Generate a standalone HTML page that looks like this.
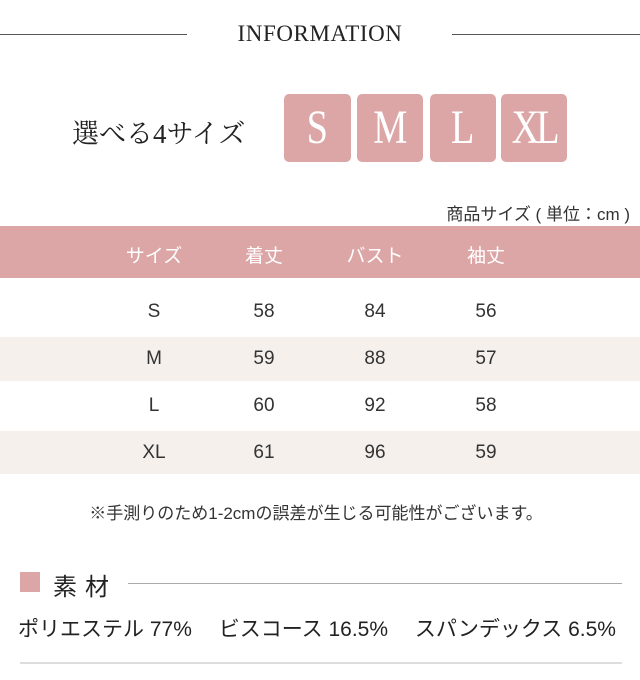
<!DOCTYPE html>
<html><head><meta charset="utf-8"><style>
*{margin:0;padding:0;box-sizing:border-box}
body{width:640px;height:680px;background:#fff;position:relative;overflow:hidden;font-family:"Liberation Sans","Noto Sans CJK JP",sans-serif;color:#333}
.a{position:absolute}
.hl{position:absolute;height:1px;background:#555}
.box{position:absolute;top:94px;height:68px;background:#dca6a7;border-radius:5px;color:#fff;font-family:"Liberation Serif","Noto Serif CJK SC",serif;font-size:48px;text-align:center;line-height:68px}
.box span{display:inline-block;transform:scaleX(0.8)}
.c{position:absolute;width:100px;margin-left:-50px;text-align:center}
.row{position:absolute;left:0;width:640px;height:44px;background:#f5f0ec}
.num{font-size:19px;color:#333;font-weight:300}
</style></head><body>
<div class="hl" style="left:0;width:187px;top:34px"></div>
<div class="hl" style="left:452px;width:188px;top:34px"></div>
<div class="a" style="left:200px;top:21px;width:240px;text-align:center;font-family:'Liberation Serif',serif;font-size:23px;color:#222;letter-spacing:0.6px">INFORMATION</div>
<div class="a" style="left:72px;top:112px;font-family:'Liberation Serif','Noto Serif CJK SC',serif;font-size:27px;color:#222;white-space:nowrap">選べる4サイズ</div>
<div class="box" style="left:284px;width:67px"><span>S</span></div>
<div class="box" style="left:357px;width:66px"><span>M</span></div>
<div class="box" style="left:430px;width:66px"><span>L</span></div>
<div class="box" style="left:501px;width:66px"><span style="letter-spacing:-4px">XL</span></div>
<div class="a" style="right:10px;top:200px;font-size:17px;color:#333;white-space:nowrap">商品サイズ ( 単位：cm )</div>
<div class="a" style="left:0;top:226px;width:640px;height:52px;background:#dca6a7"></div>
<div class="c" style="left:154px;top:241px;color:#fff;font-size:19px">サイズ</div>
<div class="c" style="left:264px;top:241px;color:#fff;font-size:19px">着丈</div>
<div class="c" style="left:375px;top:241px;color:#fff;font-size:19px">バスト</div>
<div class="c" style="left:486px;top:241px;color:#fff;font-size:19px">袖丈</div>
<div class="row" style="top:337px"></div>
<div class="row" style="top:431px;height:43px"></div>
<div class="c num" style="left:154px;top:301px">S</div><div class="c num" style="left:264px;top:301px">58</div><div class="c num" style="left:375px;top:301px">84</div><div class="c num" style="left:486px;top:301px">56</div>
<div class="c num" style="left:154px;top:348px">M</div><div class="c num" style="left:264px;top:348px">59</div><div class="c num" style="left:375px;top:348px">88</div><div class="c num" style="left:486px;top:348px">57</div>
<div class="c num" style="left:154px;top:395px">L</div><div class="c num" style="left:264px;top:395px">60</div><div class="c num" style="left:375px;top:395px">92</div><div class="c num" style="left:486px;top:395px">58</div>
<div class="c num" style="left:154px;top:442px">XL</div><div class="c num" style="left:264px;top:442px">61</div><div class="c num" style="left:375px;top:442px">96</div><div class="c num" style="left:486px;top:442px">59</div>
<div class="a" style="left:0;width:632px;top:499px;text-align:center;font-size:17px;color:#333">※手測りのため1-2cmの誤差が生じる可能性がございます。</div>
<div class="a" style="left:20px;top:572px;width:20px;height:20px;background:#dca6a7"></div>
<div class="a" style="left:53px;top:567px;font-size:24px;color:#222;letter-spacing:8px">素材</div>
<div class="a" style="left:128px;top:583px;width:494px;height:1px;background:#aaa"></div>
<div class="a" style="left:18px;top:613px;font-size:21px;color:#222;white-space:nowrap">ポリエステル 77%　&nbsp;ビスコース 16.5%　&nbsp;スパンデックス 6.5%</div>
<div class="a" style="left:20px;top:662px;width:602px;height:2px;background:#ddd"></div>
</body></html>
